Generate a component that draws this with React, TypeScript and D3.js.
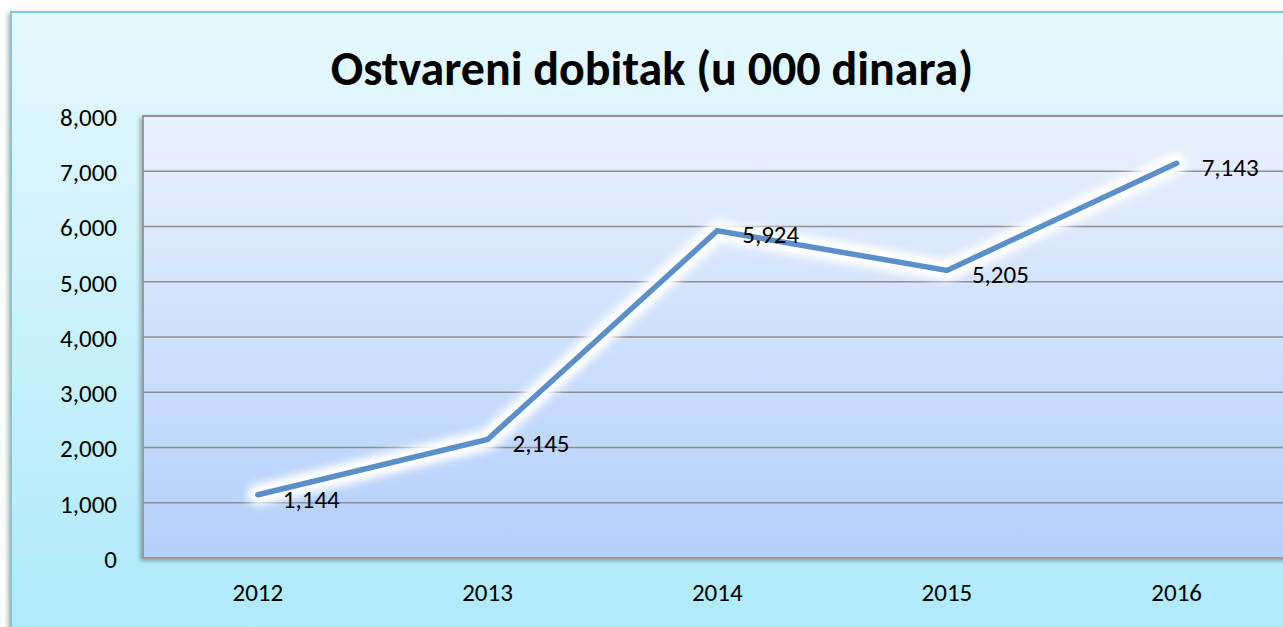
import React from "react";
import * as d3 from "d3";

const years = ["2012", "2013", "2014", "2015", "2016"];
const profit = [1144, 2145, 5924, 5205, 7143];
const yTicks = [0, 1000, 2000, 3000, 4000, 5000, 6000, 7000, 8000];
const title = "Ostvareni dobitak (u 000 dinara)";

export default function App() {
  const W = 1283, H = 627;
  const left = 143, top = 116, bottom = 558;
  const band = 229.7;
  const right = left + band * years.length;
  const x = d3.scaleBand<string>().domain(years).range([left, right]);
  const y = d3.scaleLinear().domain([0, 8000]).range([bottom, top]);
  const fmt = d3.format(",");
  const line = d3
    .line<number>()
    .x((_, i) => (x(years[i]) as number) + x.bandwidth() / 2)
    .y((d) => y(d));
  const path = line(profit) || "";
  const font = "Calibri, Carlito, 'Open Sans', 'Noto Sans', sans-serif";
  return (
    <svg
      width={W}
      height={H}
      style={{ position: "absolute", left: 0, top: 0, display: "block" }}
      fontFamily={font}
    >
      <defs>
        <linearGradient id="bgGrad" x1="0" y1="0" x2="0" y2="1">
          <stop offset="0" stopColor="#e6f8fd" />
          <stop offset="1" stopColor="#aeeafb" />
        </linearGradient>
        <linearGradient id="plotGrad" x1="0" y1="0" x2="0" y2="1">
          <stop offset="0" stopColor="#eaf1fd" />
          <stop offset="1" stopColor="#b3cffb" />
        </linearGradient>
        <filter id="shadow" x="-5%" y="-5%" width="110%" height="110%">
          <feDropShadow dx="-2" dy="2" stdDeviation="2" floodColor="#000" floodOpacity="0.3" />
        </filter>
        <filter id="glow" x="-10%" y="-10%" width="120%" height="120%">
          <feGaussianBlur stdDeviation="5" />
        </filter>
      </defs>
      <rect x={0} y={0} width={W} height={H} fill="#ffffff" />
      <rect
        x={11}
        y={12}
        width={W + 20}
        height={H}
        fill="url(#bgGrad)"
        stroke="#7cc8e0"
        strokeWidth={2}
        filter="url(#shadow)"
      />
      <text
        x={652}
        y={85}
        textAnchor="middle"
        fontSize={48}
        fontWeight="bold"
        fill="#000"
      >
        {title}
      </text>
      <rect
        x={left}
        y={top}
        width={right - left}
        height={bottom - top}
        fill="url(#plotGrad)"
        stroke="#9a9a9a"
        strokeWidth={2}
        filter="url(#shadow)"
      />
      {yTicks.slice(1).map((t) => (
        <line key={t} x1={left} x2={right} y1={y(t)} y2={y(t)} stroke="#8e8e8e" strokeWidth={1.5} />
      ))}
      {yTicks.map((t) => (
        <text key={t} x={117} y={y(t) + 1} dy="0.35em" textAnchor="end" fontSize={25} fill="#000">
          {fmt(t)}
        </text>
      ))}
      {years.map((yr) => (
        <text
          key={yr}
          x={(x(yr) as number) + x.bandwidth() / 2}
          y={592}
          dy="0.35em"
          textAnchor="middle"
          fontSize={25}
          fill="#000"
        >
          {yr}
        </text>
      ))}
      <path d={path} fill="none" stroke="#ffffff" strokeWidth={20} strokeLinejoin="round" strokeLinecap="round" filter="url(#glow)" />
      <path d={path} fill="none" stroke="#ffffff" strokeWidth={12} strokeLinejoin="round" strokeLinecap="round" opacity={0.9} filter="url(#glow)" />
      <path d={path} fill="none" stroke="#5b8fc9" strokeWidth={5.5} strokeLinejoin="miter" strokeLinecap="round" />
      {profit.map((v, i) => (
        <text
          key={i}
          x={(x(years[i]) as number) + x.bandwidth() / 2 + 25}
          y={y(v) + 4}
          dy="0.35em"
          fontSize={25}
          fill="#000"
        >
          {fmt(v)}
        </text>
      ))}
    </svg>
  );
}
